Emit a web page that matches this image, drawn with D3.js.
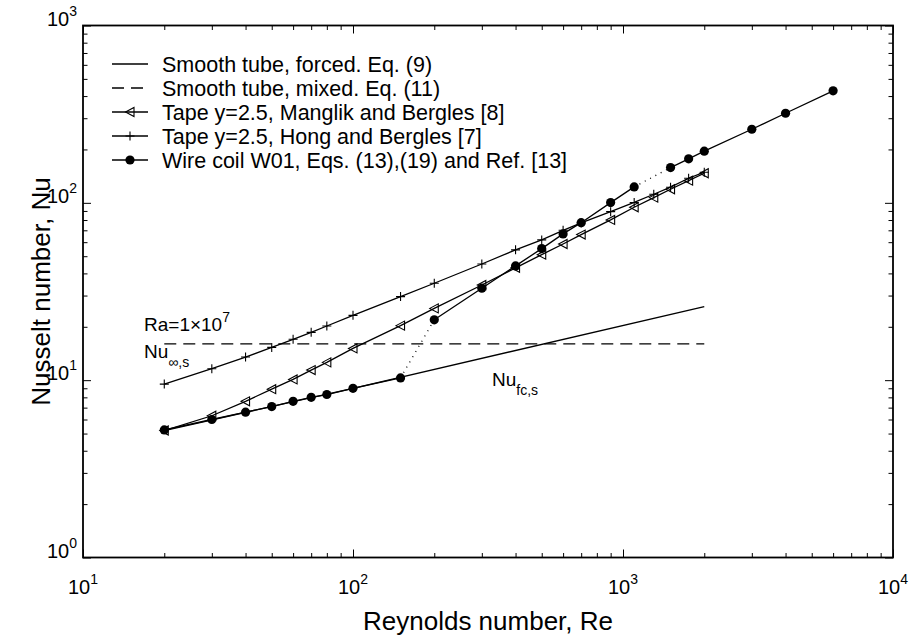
<!DOCTYPE html>
<html>
<head>
<meta charset="utf-8">
<script src="https://cdn.jsdelivr.net/npm/d3@7"></script>
<style>
  body { margin: 0; background: #fff; }
  svg text { font-family: "Liberation Sans", Arial, Helvetica, sans-serif; fill: #000; }
</style>
</head>
<body>
<div id="container"></div>
<script>
/* CONSTANTS AND GLOBALS */
const width = 909,
  height = 637,
  margin = {top: 25.5, bottom: 79.5, left: 83, right: 16};

/* DATA */
// smooth tube, forced convection
const reForced = [20, 100, 2000];
const nuForced = [5.2, 9.0, 26.0];
// smooth tube, mixed convection
const reMixed = [20, 2000];
const nuMixed = [16, 16];
// twisted tape, Manglik and Bergles
const reManglik = [20, 30, 40, 50, 60, 70, 80, 100, 150, 200, 300, 400, 500, 600, 700, 900, 1100, 1300, 1500, 1750, 2000];
const nuManglik = [5.2, 6.3, 7.6, 8.9, 10.1, 11.4, 12.6, 15.1, 20.3, 25.4, 34.4, 43, 51, 58.6, 66.2, 80.1, 94.4, 107, 119.3, 133.4, 146.9];
// twisted tape, Hong and Bergles
const reHong = [20, 30, 40, 50, 60, 70, 80, 100, 150, 200, 300, 400, 500, 600, 700, 900, 1100, 1300, 1500, 1750, 2000];
const nuHong = [9.5, 11.6, 13.5, 15.3, 17.0, 18.6, 20.2, 23.2, 29.6, 35.2, 45.2, 54.3, 61.8, 70, 77, 89.2, 100.5, 111.8, 122.5, 137.6, 148.8];
// wire coil W01 (three pieces, dotted in between)
const reWire1 = [20, 30, 40, 50, 60, 70, 80, 100, 150];
const nuWire1 = [5.24, 6.0, 6.6, 7.1, 7.6, 8.0, 8.3, 9.0, 10.3];
const reWire2 = [200, 300, 400, 500, 600, 700, 900, 1100];
const nuWire2 = [21.9, 33, 44.1, 55.2, 66.8, 77.3, 100.3, 123];
const reWire3 = [1500, 1750, 2000, 3000, 4000, 6000];
const nuWire3 = [158, 177, 195.5, 260, 320, 428];

// ticks
const xMajor = [10, 100, 1000, 10000];
const xExp = ["1", "2", "3", "4"];
const yMajor = [1, 10, 100, 1000];
const yExp = ["0", "1", "2", "3"];

const legendLabels = [
  "Smooth tube, forced. Eq. (9)",
  "Smooth tube, mixed. Eq. (11)",
  "Tape y=2.5, Manglik and Bergles [8]",
  "Tape y=2.5, Hong and Bergles [7]",
  "Wire coil W01, Eqs. (13),(19) and Ref. [13]"
];

const zip = (xs, ys) => xs.map((x, i) => ({re: x, nu: ys[i]}));

// SCALES
const xScale = d3.scaleLog()
  .domain([10, 10000])
  .range([margin.left, width - margin.right]);

const yScale = d3.scaleLog()
  .domain([1, 1000])
  .range([height - margin.bottom, margin.top]);

// minor ticks 2..9 in every decade
const minorOf = dom => {
  const out = [];
  for (let p = Math.log10(dom[0]); p < Math.log10(dom[1]); p++)
    for (let k = 2; k <= 9; k++) out.push(k * Math.pow(10, p));
  return out;
};

// CREATE SVG ELEMENT
const svg = d3.select("#container")
  .append("svg")
  .attr("width", width)
  .attr("height", height);

// AXES (ticks pointing inwards on all four sides)
const x0 = xScale.range()[0], x1 = xScale.range()[1];
const y0 = yScale.range()[0], y1 = yScale.range()[1];

function tickGroup(axis, transform) {
  const g = svg.append("g").attr("transform", transform).call(axis);
  g.select(".domain").remove();
  g.selectAll("line").attr("stroke", "#000").attr("stroke-width", 1);
  g.selectAll("text").remove();
}
[[xMajor, -8], [minorOf([10, 10000]), -4.5]].forEach(([vals, s]) => {
  tickGroup(d3.axisBottom(xScale).tickValues(vals).tickSize(s), `translate(0,${y0})`);
  tickGroup(d3.axisTop(xScale).tickValues(vals).tickSize(s), `translate(0,${y1})`);
});
[[yMajor, -8], [minorOf([1, 1000]), -4.5]].forEach(([vals, s]) => {
  tickGroup(d3.axisLeft(yScale).tickValues(vals).tickSize(s), `translate(${x0},0)`);
  tickGroup(d3.axisRight(yScale).tickValues(vals).tickSize(s), `translate(${x1},0)`);
});

// frame
svg.append("rect")
  .attr("x", x0).attr("y", y1)
  .attr("width", x1 - x0).attr("height", y0 - y1)
  .attr("fill", "none").attr("stroke", "#000").attr("stroke-width", 1.8);

// tick labels 10^n
const xl = svg.append("g").selectAll("text")
  .data(xMajor)
  .join("text")
  .attr("x", d => xScale(d))
  .attr("y", y0 + 36)
  .attr("text-anchor", "middle")
  .style("font-size", "20px");
xl.append("tspan").text("10");
xl.append("tspan").attr("dy", -10).style("font-size", "14px").text((d, i) => xExp[i]);

const yl = svg.append("g").selectAll("text")
  .data(yMajor)
  .join("text")
  .attr("x", x0 - 6)
  .attr("y", d => yScale(d))
  .attr("text-anchor", "end")
  .style("font-size", "20px");
yl.append("tspan").text("10");
yl.append("tspan").attr("dy", -10).style("font-size", "14px").text((d, i) => yExp[i]);

// axis titles
svg.append("text")
  .attr("x", (x0 + x1) / 2)
  .attr("y", 630)
  .attr("text-anchor", "middle")
  .style("font-size", "26px")
  .text("Reynolds number, Re");

svg.append("text")
  .attr("transform", `translate(50,${(y0 + y1) / 2}) rotate(-90)`)
  .attr("text-anchor", "middle")
  .style("font-size", "26px")
  .text("Nusselt number, Nu");

// LINE GENERATOR FUNCTION
const lineGen = d3.line()
  .x(d => xScale(d.re))
  .y(d => yScale(d.nu));

const forced = zip(reForced, nuForced);
const mixed = zip(reMixed, nuMixed);
const manglik = zip(reManglik, nuManglik);
const hong = zip(reHong, nuHong);
const wire1 = zip(reWire1, nuWire1);
const wire2 = zip(reWire2, nuWire2);
const wire3 = zip(reWire3, nuWire3);

// DRAW LINES
function drawLine(data, dash) {
  svg.append("path")
    .datum(data)
    .attr("fill", "none")
    .attr("stroke", "#000")
    .attr("stroke-width", 1.3)
    .attr("stroke-dasharray", dash || null)
    .attr("d", lineGen);
}
drawLine(forced);
drawLine(mixed, "12,7");
drawLine(manglik);
drawLine(hong);
drawLine(wire1);
drawLine(wire2);
drawLine(wire3);
// dotted jumps of the wire coil curve
drawLine([wire1[wire1.length - 1], wire2[0]], "1,5");
drawLine([wire2[wire2.length - 1], wire3[0]], "1,5");

// MARKERS
const triPath = "M-4.5,0L4,-4.5L4,4.5Z";
const plusPath = "M-4.5,0H4.5M0,-4.5V4.5";

function drawMarkers(data, kind) {
  const g = svg.append("g");
  if (kind === "circle") {
    g.selectAll("circle").data(data).join("circle")
      .attr("cx", d => xScale(d.re)).attr("cy", d => yScale(d.nu))
      .attr("r", 4.6).attr("fill", "#000");
  } else {
    g.selectAll("path").data(data).join("path")
      .attr("transform", d => `translate(${xScale(d.re)},${yScale(d.nu)})`)
      .attr("d", kind === "tri" ? triPath : plusPath)
      .attr("fill", "none").attr("stroke", "#000").attr("stroke-width", 1.1);
  }
}
drawMarkers(manglik, "tri");
drawMarkers(hong, "plus");
drawMarkers(wire1.concat(wire2, wire3), "circle");

// LEGEND
const legend = svg.append("g").attr("transform", "translate(112,64)");
const rowH = 24;
legendLabels.forEach((lab, i) => {
  const row = legend.append("g").attr("transform", `translate(0,${i * rowH})`);
  row.append("line")
    .attr("x1", 0).attr("x2", 36).attr("y1", 0).attr("y2", 0)
    .attr("stroke", "#000").attr("stroke-width", 1.3)
    .attr("stroke-dasharray", i === 1 ? "12,7" : null);
  if (i === 2) row.append("path").attr("transform", "translate(18,0)").attr("d", triPath)
    .attr("fill", "none").attr("stroke", "#000").attr("stroke-width", 1.1);
  if (i === 3) row.append("path").attr("transform", "translate(18,0)").attr("d", plusPath)
    .attr("fill", "none").attr("stroke", "#000").attr("stroke-width", 1.1);
  if (i === 4) row.append("circle").attr("cx", 18).attr("r", 4.6).attr("fill", "#000");
  row.append("text")
    .attr("x", 50).attr("y", 7.5)
    .style("font-size", "21.5px")
    .text(lab);
});

// ANNOTATIONS
const ra = svg.append("text").attr("x", 144).attr("y", 331).style("font-size", "19px");
ra.append("tspan").text("Ra=1\u00d710");
ra.append("tspan").attr("dy", -9).style("font-size", "14px").text("7");

const nuInf = svg.append("text").attr("x", 144).attr("y", 358).style("font-size", "19px");
nuInf.append("tspan").text("Nu");
nuInf.append("tspan").attr("dy", 9).style("font-size", "14px").text("\u221e,s");

const nuFc = svg.append("text").attr("x", 492).attr("y", 386).style("font-size", "19px");
nuFc.append("tspan").text("Nu");
nuFc.append("tspan").attr("dy", 9).style("font-size", "14px").text("fc,s");
</script>
</body>
</html>
